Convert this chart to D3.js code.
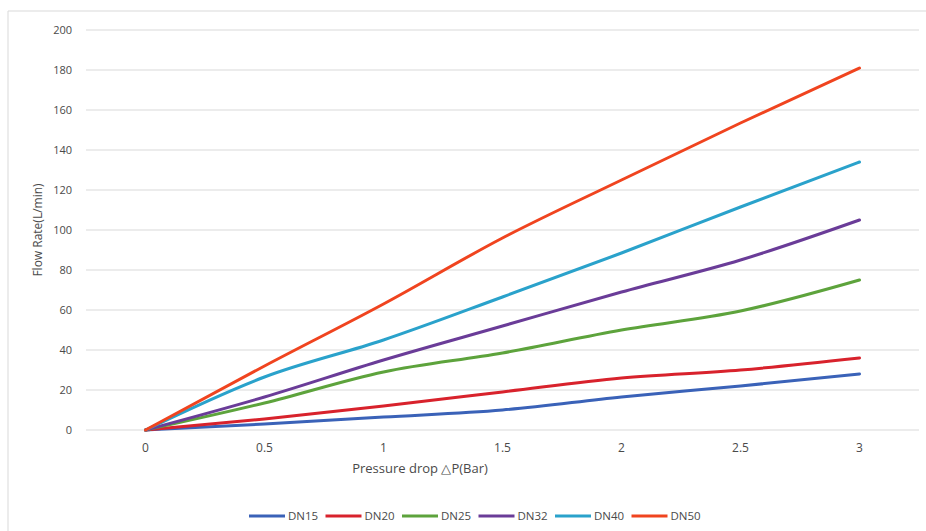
<!DOCTYPE html>
<html>
<head>
<meta charset="utf-8">
<script src="https://cdn.jsdelivr.net/npm/d3@7/dist/d3.min.js"></script>
<style>
  body { margin: 0; background: #fff; }
  text { font-family: "Open Sans", "Liberation Sans", sans-serif; fill: #4a4a4a; }
</style>
</head>
<body>
<svg id="chart" width="926" height="531"></svg>
<script>
const pressure = ['0', '0.5', '1', '1.5', '2', '2.5', '3'];
const yTicks = [0, 20, 40, 60, 80, 100, 120, 140, 160, 180, 200];

const dn15 = [0, 3, 6.5, 10, 16.5, 22, 28];
const dn20 = [0, 5.5, 12, 19, 26, 30, 36];
const dn25 = [0, 13.5, 29, 38.5, 50, 59.5, 75];
const dn32 = [0, 16.5, 35, 52, 69, 85, 105];
const dn40 = [0, 26.5, 45, 66.5, 88.5, 111.5, 134];
const dn50 = [0, 32, 63, 96, 125, 153.5, 181];

const seriesNames = ['DN15', 'DN20', 'DN25', 'DN32', 'DN40', 'DN50'];
const seriesColors = ['#3a62b8', '#d8222c', '#5da33c', '#6a3c98', '#2aa2cb', '#f0441f'];
const series = [dn15, dn20, dn25, dn32, dn40, dn50].map((v, i) => ({
  name: seriesNames[i], color: seriesColors[i], values: v
}));

const svg = d3.select('#chart');

// frame of the chart area
svg.append('path')
   .attr('d', 'M8,531 L8,11 L926,11')
   .attr('fill', 'none')
   .attr('stroke', '#d9d9d9')
   .attr('stroke-width', 1);

const xScale = d3.scaleBand().domain(pressure).range([86, 919]);
const yScale = d3.scaleLinear().domain([0, 200]).range([430, 30]);

// gridlines
svg.append('g')
   .selectAll('line')
   .data(yTicks)
   .enter()
   .append('line')
   .attr('x1', 86)
   .attr('x2', 919)
   .attr('y1', d => yScale(d))
   .attr('y2', d => yScale(d))
   .attr('stroke', '#d9d9d9')
   .attr('stroke-width', 1);

// y axis labels
const yAxis = svg.append('g')
   .attr('transform', 'translate(86,0)')
   .call(d3.axisLeft(yScale).tickValues(yTicks).tickSize(0).tickPadding(14));
yAxis.select('.domain').remove();
yAxis.selectAll('text').style('font-size', '11px').attr('fill', '#4a4a4a');

// x axis labels
const xAxis = svg.append('g')
   .attr('transform', 'translate(0,430)')
   .call(d3.axisBottom(xScale).tickSize(0).tickPadding(13));
xAxis.select('.domain').remove();
xAxis.selectAll('text').style('font-size', '12px').attr('fill', '#4a4a4a');

// axis titles
svg.append('text')
   .attr('transform', 'translate(42,230) rotate(-90)')
   .attr('text-anchor', 'middle')
   .style('font-size', '12px')
   .text('Flow Rate(L/min)');

svg.append('text')
   .attr('x', 420)
   .attr('y', 473)
   .attr('text-anchor', 'middle')
   .style('font-size', '13px')
   .text('Pressure drop \u25B3P(Bar)');

// lines
const line = d3.line()
   .x((d, i) => xScale(pressure[i]) + xScale.bandwidth() / 2)
   .y(d => yScale(d))
   .curve(d3.curveMonotoneX);

svg.append('g')
   .selectAll('.series')
   .data(series)
   .enter()
   .append('path')
   .attr('class', 'series')
   .attr('d', d => line(d.values))
   .attr('fill', 'none')
   .attr('stroke', d => d.color)
   .attr('stroke-width', 3)
   .attr('stroke-linecap', 'round')
   .attr('stroke-linejoin', 'round');

// legend
const legend = svg.append('g').attr('transform', 'translate(249,516)');
let lx = 0;
series.forEach(s => {
  const item = legend.append('g').attr('transform', `translate(${lx},0)`);
  item.append('line')
      .attr('x1', 0).attr('x2', 36)
      .attr('y1', 0).attr('y2', 0)
      .attr('stroke', s.color)
      .attr('stroke-width', 3);
  item.append('text')
      .attr('x', 39)
      .attr('y', 4)
      .style('font-size', '11.5px')
      .text(s.name);
  lx += 76.5;
});
</script>
</body>
</html>
